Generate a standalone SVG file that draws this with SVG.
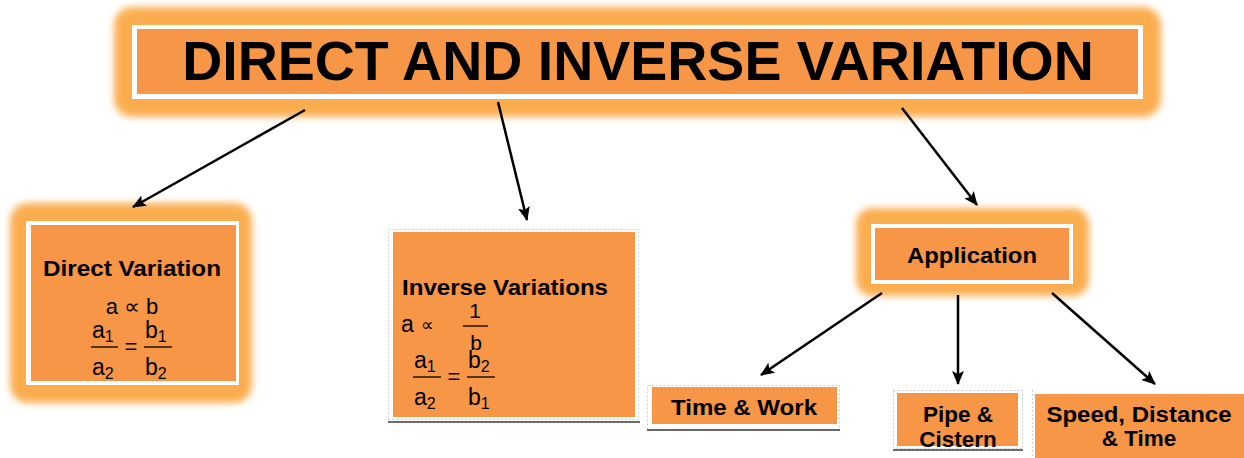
<svg xmlns="http://www.w3.org/2000/svg" width="1244" height="458" viewBox="0 0 1244 458">
<defs>
<filter id="blur" x="-10%" y="-20%" width="120%" height="140%"><feGaussianBlur stdDeviation="3.5"/></filter>
<marker id="arr" markerWidth="14" markerHeight="12" refX="13" refY="6" orient="auto" markerUnits="userSpaceOnUse"><path d="M0,0 L14,6 L0,12 L3,6 Z" fill="#000"/></marker>
<pattern id="wave" width="4" height="4" patternUnits="userSpaceOnUse"><path d="M0,3 L1,1 L2,3 L3,1 L4,3" fill="none" stroke="#444" stroke-width="1"/></pattern>
</defs>
<style>
.glow{fill:#FAA53C;opacity:0.9;filter:url(#blur)}
.white{fill:#fff}
.box{fill:#F79646}
.frame{fill:none;stroke:#ccc;stroke-width:1;stroke-dasharray:2 2}
.b{font-family:"Liberation Sans",Arial,sans-serif;font-weight:bold;fill:#000}
.m{font-family:"Liberation Sans","DejaVu Sans",Arial,sans-serif;fill:#000}
.fl{stroke:#000;stroke-width:1.3}
.conn line{stroke:#000;stroke-width:2.5;marker-end:url(#arr)}
</style>
<rect width="1244" height="458" fill="#fff"/>

<g id="title">
<rect class="glow" x="114" y="7" width="1047" height="110" rx="18"/>
<rect class="white" x="132" y="25" width="1011" height="74"/>
<rect class="box" x="137" y="29" width="1001" height="65"/>
<text class="b" x="638" y="80" font-size="55.5" text-anchor="middle">DIRECT AND INVERSE VARIATION</text>
</g>

<g id="direct">
<rect class="glow" x="10" y="203" width="242" height="200" rx="18"/>
<rect class="white" x="26" y="221" width="213" height="164"/>
<rect class="box" x="31" y="225" width="205" height="156"/>
<text class="b" x="132" y="276" font-size="22.5" text-anchor="middle" textLength="178" lengthAdjust="spacingAndGlyphs">Direct Variation</text>
<text class="m" x="132" y="314" font-size="22" text-anchor="middle">a ∝ b</text>
<text class="m" x="92" y="338" font-size="23">a<tspan font-size="16" dy="4">1</tspan></text>
<line class="fl" x1="91" y1="347" x2="118" y2="347"/>
<text class="m" x="92" y="375" font-size="23">a<tspan font-size="16" dy="4">2</tspan></text>
<text class="m" x="131" y="354" font-size="22" text-anchor="middle">=</text>
<text class="m" x="145" y="338" font-size="23">b<tspan font-size="16" dy="4">1</tspan></text>
<line class="fl" x1="144" y1="347" x2="172" y2="347"/>
<text class="m" x="145" y="375" font-size="23">b<tspan font-size="16" dy="4">2</tspan></text>
</g>

<g id="inverse">
<rect class="frame" x="388.5" y="229.5" width="250" height="190"/>
<rect x="388" y="420" width="252" height="4" fill="url(#wave)"/>
<rect class="box" x="393" y="232" width="242" height="185"/>
<text class="b" x="402" y="295" font-size="22.5" textLength="206" lengthAdjust="spacingAndGlyphs">Inverse Variations</text>
<text class="m" x="401" y="332" font-size="23">a</text>
<text class="m" x="421" y="331" font-size="18">∝</text>
<text class="m" x="475" y="318" font-size="21" text-anchor="middle">1</text>
<line class="fl" x1="463" y1="326" x2="488" y2="326"/>
<text class="m" x="476" y="350" font-size="21" text-anchor="middle">b</text>
<text class="m" x="414" y="368" font-size="23">a<tspan font-size="16" dy="4">1</tspan></text>
<line class="fl" x1="413" y1="377" x2="441" y2="377"/>
<text class="m" x="414" y="405" font-size="23">a<tspan font-size="16" dy="4">2</tspan></text>
<text class="m" x="454" y="384" font-size="22" text-anchor="middle">=</text>
<text class="m" x="468" y="368" font-size="23">b<tspan font-size="16" dy="4">2</tspan></text>
<line class="fl" x1="467" y1="377" x2="495" y2="377"/>
<text class="m" x="468" y="405" font-size="23">b<tspan font-size="16" dy="4">1</tspan></text>
</g>

<g id="application">
<rect class="glow" x="856" y="208" width="233" height="88" rx="16"/>
<rect class="white" x="871" y="224" width="202" height="60"/>
<rect class="box" x="875" y="228" width="194" height="52"/>
<text class="b" x="972" y="263" font-size="22.5" text-anchor="middle" textLength="130" lengthAdjust="spacingAndGlyphs">Application</text>
</g>

<g id="timework">
<rect class="frame" x="647.5" y="385.5" width="192" height="44"/>
<rect x="647" y="429" width="193" height="4" fill="url(#wave)"/>
<rect class="box" x="652" y="387" width="185" height="37"/>
<text class="b" x="744" y="415" font-size="22.5" text-anchor="middle" textLength="146" lengthAdjust="spacingAndGlyphs">Time &amp; Work</text>
</g>

<g id="pipe">
<rect class="frame" x="893.5" y="390.5" width="129" height="58"/>
<rect x="893" y="449" width="130" height="4" fill="url(#wave)"/>
<rect class="box" x="897" y="393" width="121" height="53"/>
<text class="b" x="958" y="422" font-size="22.5" text-anchor="middle">Pipe &amp;</text>
<text class="b" x="958" y="447" font-size="22.5" text-anchor="middle">Cistern</text>
</g>

<g id="speed">
<line x1="1032.5" y1="390" x2="1032.5" y2="458" stroke="#ccc" stroke-width="1" stroke-dasharray="2 2"/>
<rect class="box" x="1035" y="394" width="209" height="64"/>
<text class="b" x="1139" y="422" font-size="22.5" text-anchor="middle" textLength="185" lengthAdjust="spacingAndGlyphs">Speed, Distance</text>
<text class="b" x="1139" y="446" font-size="22.5" text-anchor="middle">&amp; Time</text>
</g>

<g id="connectors" class="conn">
<line x1="305" y1="110" x2="133" y2="207"/>
<line x1="498" y1="102" x2="527" y2="220"/>
<line x1="902" y1="108" x2="977" y2="205"/>
<line x1="882" y1="293" x2="761" y2="375"/>
<line x1="958" y1="295" x2="958" y2="384"/>
<line x1="1052" y1="293" x2="1155" y2="384"/>
</g>
</svg>
